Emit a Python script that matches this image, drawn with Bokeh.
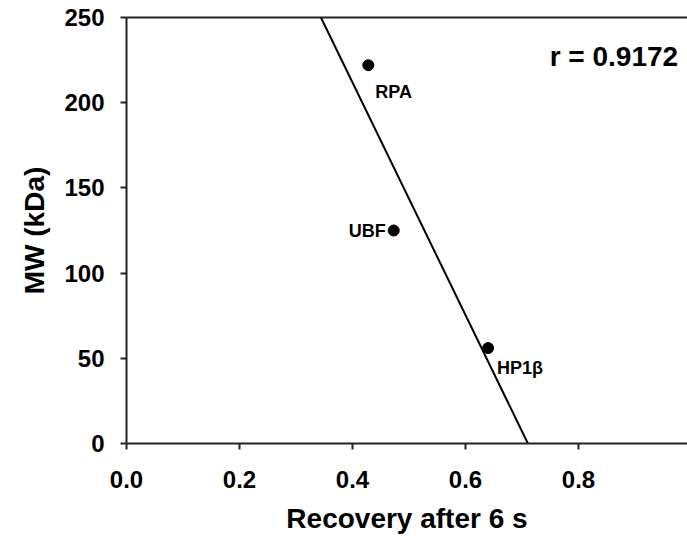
import numpy as np
from bokeh.plotting import figure
from bokeh.models import LinearAxis, FixedTicker, NumeralTickFormatter, Label, Range1d
from bokeh.embed import file_html
from bokeh.resources import INLINE
from bokeh.core.properties import value

# ---- data ----
proteins = ["RPA", "UBF", "HP1β"]
recovery = [0.428, 0.473, 0.640]
mw_kda = [222, 125, 56]
x_ticks = [0.0, 0.2, 0.4, 0.6, 0.8, 1.0]
y_ticks = [0, 50, 100, 150, 200, 250]
r_text = "r = 0.9172"

FONT = "Liberation Sans"

p = figure(width=687, height=536, output_backend="svg", toolbar_location=None,
           x_range=Range1d(0, 0.993), y_range=Range1d(0, 250),
           min_border_left=126, min_border_top=17, min_border_right=0, min_border_bottom=92)
p.xgrid.visible = False
p.ygrid.visible = False
p.outline_line_color = None
p.background_fill_color = "white"
p.border_fill_color = "white"

for ax in (p.xaxis[0], p.yaxis[0]):
    ax.axis_line_width = 2
    ax.axis_line_color = "#222222"
    ax.major_tick_line_width = 2
    ax.major_tick_line_color = "#222222"
    ax.major_tick_out = 6
    ax.major_tick_in = 0
    ax.minor_tick_line_color = None
    ax.major_label_text_font = FONT
    ax.major_label_text_font_style = "bold"
    ax.major_label_text_font_size = "24px"
    ax.major_label_text_color = "black"
    ax.axis_label_text_font = FONT
    ax.axis_label_text_font_style = "bold"
    ax.axis_label_text_font_size = "28px"
    ax.axis_label_text_color = "black"

p.xaxis[0].ticker = FixedTicker(ticks=x_ticks)
p.xaxis[0].formatter = NumeralTickFormatter(format="0.0")
p.xaxis[0].axis_label = "Recovery after 6 s"
p.xaxis[0].major_label_standoff = 21
p.xaxis[0].axis_label_standoff = 12

p.yaxis[0].ticker = FixedTicker(ticks=y_ticks)
p.yaxis[0].axis_label = "MW (kDa)"
p.yaxis[0].major_label_standoff = 16
p.yaxis[0].axis_label_standoff = 11

top = LinearAxis(major_tick_line_color=None, minor_tick_line_color=None,
                 major_label_text_font_size="0px", axis_line_width=2,
                 axis_line_color="#222222", major_label_text_alpha=0)
p.add_layout(top, "above")

# regression line computed from the data
m, b = np.polyfit(recovery, mw_kda, 1)
line_y = [y_ticks[-1], y_ticks[0]]
line_x = [(yy - b) / m for yy in line_y]
p.line(line_x, line_y, line_color="black", line_width=2)

p.scatter(recovery, mw_kda, size=11, color="black")

# point labels
p.text([recovery[0]], [mw_kda[0]], text=[proteins[0]], x_offset=7, y_offset=27,
       text_font=value(FONT), text_font_style="bold", text_font_size="18px",
       text_baseline="alphabetic", text_align="left", text_color="black")
p.text([recovery[1]], [mw_kda[1]], text=[proteins[1]], x_offset=-8, y_offset=0,
       text_font=value(FONT), text_font_style="bold", text_font_size="18px",
       text_baseline="middle", text_align="right", text_color="black")
p.text([recovery[2]], [mw_kda[2]], text=[proteins[2]], x_offset=9, y_offset=20,
       text_font=value(FONT), text_font_style="bold", text_font_size="18px",
       text_baseline="alphabetic", text_align="left", text_color="black")

p.add_layout(Label(x=0.749, y=227, text=r_text, text_font=FONT, text_font_style="bold",
                   text_font_size="28px", text_baseline="alphabetic", text_color="black"))

open("out.html", "w").write(file_html(p, INLINE))
